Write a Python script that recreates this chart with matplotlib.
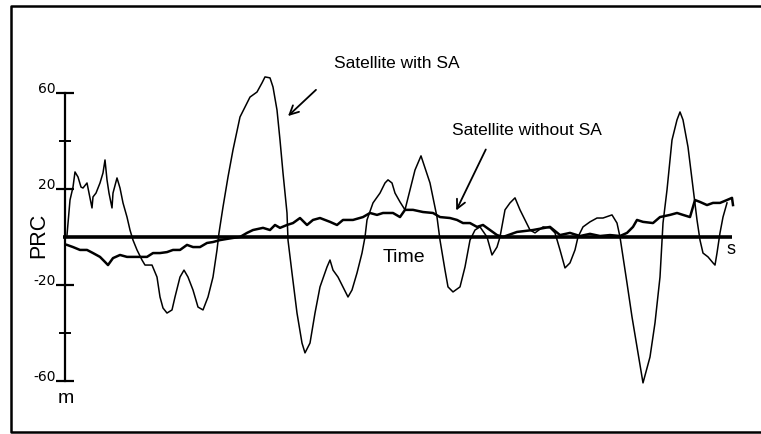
import matplotlib.pyplot as plt
import matplotlib.transforms as mtransforms
from matplotlib.lines import Line2D

plt.rcParams['font.family'] = ['Liberation Sans', 'DejaVu Sans']

# time (s, arbitrary scale) and pseudo range correction (m)
t_sa = [2, 5, 8, 10, 13, 16, 18, 22, 24, 27, 28, 31, 35, 38, 40, 42, 44, 47, 48, 52,
        55, 58, 62, 65, 68, 72, 77, 80, 87, 92, 95, 98, 102, 107, 110, 115, 119, 123, 128, 133,
        138, 143, 148, 152, 154, 158, 163, 168, 175, 185, 192, 197, 200, 205, 208, 212, 215, 218, 222, 223,
        227, 232, 237, 240, 245, 250, 255, 262, 265, 268, 273, 278, 283, 287, 292, 297, 300, 302, 308, 315,
        320, 323, 327, 330, 335, 340, 345, 350, 356, 365, 372, 375, 380, 383, 388, 395, 400, 405, 410, 415,
        422, 427, 432, 435, 440, 445, 450, 455, 460, 465, 470, 478, 485, 490, 495, 500, 505, 510, 513, 518,
        525, 532, 538, 547, 552, 555, 562, 567, 572, 578, 585, 590, 595, 598, 602, 607, 612, 615, 618, 623,
        628, 632, 635, 638, 643, 648, 650, 652, 655, 658, 662]
prc_sa = [0.8, 15.4, 20.8, 27.1, 25.0, 20.8, 20.4, 22.5, 18.3, 12.1, 16.7, 18.3, 22.5, 26.7, 32.1, 23.8, 18.3, 12.1, 18.3, 24.6,
          20.4, 14.2, 8.3, 2.9, -1.3, -5.4, -9.6, -11.7, -11.7, -16.7, -25.0, -29.6, -31.7, -30.4, -25.0, -16.7, -13.8, -16.7, -22.1, -29.2,
          -30.4, -25.0, -16.7, -5.4, 1.7, 12.5, 25.0, 36.3, 50.0, 58.3, 60.4, 64.2, 66.7, 66.3, 62.5, 52.9, 40.4, 26.7, 10.0, -1.3,
          -15.0, -31.7, -44.2, -48.3, -44.2, -31.7, -20.8, -12.5, -9.6, -13.8, -16.7, -20.8, -25.0, -22.1, -15.0, -6.7, 0.0, 7.1, 14.2, 18.3,
          22.5, 23.8, 22.5, 18.3, 14.6, 11.3, 19.6, 27.9, 33.8, 22.5, 8.3, -1.3, -13.8, -20.8, -22.9, -20.8, -12.5, -1.3, 2.9, 4.2,
          0.0, -7.5, -4.2, 0.0, 11.3, 14.2, 16.3, 11.3, 7.1, 2.9, 1.7, 4.2, 3.8, 1.7, -5.4, -12.9, -10.8, -5.4, 0.0, 4.2,
          6.3, 7.9, 7.9, 9.2, 5.8, 0.0, -19.2, -33.3, -45.8, -60.8, -50.0, -35.8, -16.7, 5.8, 19.6, 40.4, 48.8, 52.1, 48.8, 37.5,
          20.8, 7.1, -1.3, -6.7, -8.3, -10.8, -11.7, -6.7, 1.7, 8.3, 14.2]

t_nosa = [2, 8, 15, 22, 28, 35, 40, 43, 48, 55, 62, 68, 75, 82, 88, 95, 102, 108, 115, 122,
          128, 135, 142, 148, 155, 162, 168, 175, 182, 188, 198, 205, 210, 215, 222, 228, 235, 242, 248, 255,
          265, 272, 278, 288, 298, 305, 312, 318, 328, 335, 340, 348, 358, 368, 375, 385, 392, 398, 405, 412,
          418, 425, 432, 438, 452, 468, 485, 495, 505, 515, 525, 535, 545, 555, 562, 568, 572, 578, 588, 595,
          605, 612, 618, 625, 630, 635, 642, 648, 655, 662, 667, 668]
prc_nosa = [-3.3, -4.2, -5.4, -5.4, -6.7, -8.3, -10.4, -11.7, -8.8, -7.5, -8.3, -8.3, -8.3, -8.3, -6.7, -6.7, -6.3, -5.4, -5.4, -3.3,
            -4.2, -4.2, -2.5, -2.1, -1.3, -0.8, -0.4, 0.0, 1.7, 2.9, 3.8, 2.9, 5.0, 3.8, 5.0, 5.8, 7.9, 5.0, 7.1, 7.9,
            6.3, 5.0, 7.1, 7.1, 8.3, 10.0, 9.2, 10.0, 10.0, 8.3, 11.3, 11.3, 10.4, 10.0, 8.3, 7.9, 7.1, 5.8, 5.8, 4.2,
            5.0, 2.9, 0.8, 0.0, 2.1, 2.9, 4.2, 0.8, 1.7, 0.4, 1.3, 0.4, 0.8, 0.4, 1.7, 4.2, 7.1, 6.3, 5.8, 8.3,
            9.2, 10.0, 9.2, 8.3, 15.4, 14.6, 13.3, 14.2, 14.2, 15.4, 16.3, 13.3]

yticks = [-60, -20, 20, 60]
ytick_labels = ['-60', '-20', '20', '60']
yminor = [-40, 40]

fig = plt.figure(figsize=(7.61, 4.34), dpi=100)
ax = fig.add_axes([0, 0, 1, 1])
ax.set_xlim(-65, 696)
ax.set_ylim(-82.1, 98.75)

ax.plot(t_sa, prc_sa, color='black', lw=1.1)
ax.plot(t_nosa, prc_nosa, color='black', lw=1.8)

# time axis drawn as a thick zero line
ax.hlines(0, -2, 667, color='black', lw=2.6)

for s in ['top', 'right', 'bottom']:
    ax.spines[s].set_visible(False)
ax.spines['left'].set_position(('data', 0))
ax.spines['left'].set_bounds(-60, 60)
ax.spines['left'].set_linewidth(1.6)
ax.set_xticks([])
ax.set_yticks(yticks)
ax.set_yticklabels(ytick_labels, fontsize=10, family='DejaVu Sans')
ax.set_yticks(yminor, minor=True)
ax.tick_params(axis='y', which='major', direction='inout', length=13, width=1.6, pad=0)
ax.tick_params(axis='y', which='minor', direction='inout', length=8, width=1.4)
offset = mtransforms.ScaledTranslation(0, 4 / 72, fig.dpi_scale_trans)
for lab in ax.get_yticklabels():
    lab.set_transform(lab.get_transform() + offset)

ax.text(-26, 0.8, 'PRC', rotation=90, fontsize=15.5, ha='center', va='center')
ax.text(1, -67.5, 'm', fontsize=14, ha='center', va='center')
ax.text(339, -8.75, 'Time', fontsize=14, ha='center', va='center')
ax.text(666, -5.4, 's', fontsize=13, ha='center', va='center')

ax.text(332, 72.1, 'Satellite with SA', fontsize=12.5, ha='center', va='center')
ax.text(462, 44.2, 'Satellite without SA', fontsize=12.5, ha='center', va='center')
ax.annotate('', xy=(221, 49.6), xytext=(253, 62.1),
            arrowprops=dict(arrowstyle='->', lw=1.3, color='black', mutation_scale=16))
ax.annotate('', xy=(390, 10.0), xytext=(422, 37.5),
            arrowprops=dict(arrowstyle='->', lw=1.3, color='black', mutation_scale=16))

# outer frame
W, H = 761, 434
fig.add_artist(Line2D([1, 11 / W, 11 / W, 1], [1 - 6 / H, 1 - 6 / H, 1 - 432 / H, 1 - 432 / H],
                      transform=fig.transFigure, color='black', lw=1.8))

fig.savefig('out.png', dpi=100)
